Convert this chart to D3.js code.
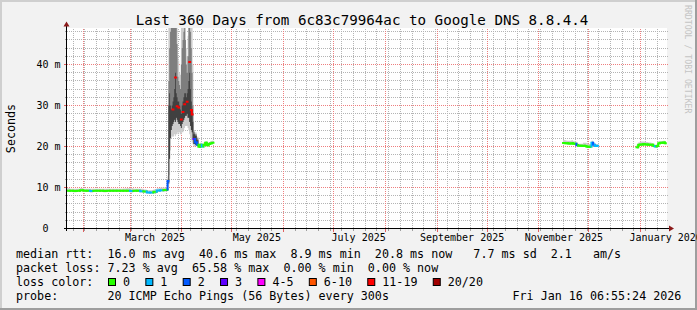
<!DOCTYPE html>
<html>
<head>
<meta charset="utf-8">
<script src="https://cdn.jsdelivr.net/npm/d3@7"></script>
<style>
  html, body { margin: 0; padding: 0; background: #f2f2f2; }
  svg { display: block; }
  svg text { font-family: "DejaVu Sans Mono", monospace; white-space: pre; }
</style>
</head>
<body>
<svg id="chart"></svg>
<script>
// ---- data ----
// each entry lasts until the next one; an entry with null median/smoke is a gap
const times = [
  // Jan - Mar 2025, ~9 ms
  "2025-01-22T00:00Z","2025-01-24T00:00Z","2025-01-26T00:00Z","2025-01-28T00:00Z","2025-01-30T00:00Z",
  "2025-02-01T00:00Z","2025-02-03T00:00Z","2025-02-05T00:00Z","2025-02-07T00:00Z","2025-02-09T00:00Z",
  "2025-02-11T00:00Z","2025-02-13T00:00Z","2025-02-15T00:00Z","2025-02-17T00:00Z","2025-02-19T00:00Z",
  "2025-02-21T00:00Z","2025-02-23T00:00Z","2025-02-25T00:00Z","2025-02-27T00:00Z","2025-03-01T00:00Z",
  "2025-03-03T00:00Z","2025-03-05T00:00Z","2025-03-07T00:00Z","2025-03-09T00:00Z","2025-03-11T00:00Z",
  "2025-03-13T00:00Z","2025-03-15T00:00Z","2025-03-17T00:00Z","2025-03-19T00:00Z","2025-03-21T00:00Z",
  "2025-03-23T00:00Z","2025-03-23T12:00Z",
  // spike, end of March / early April
  "2025-03-24T00:00Z","2025-03-24T12:00Z","2025-03-25T00:00Z","2025-03-25T12:00Z","2025-03-26T00:00Z",
  "2025-03-26T12:00Z","2025-03-27T00:00Z","2025-03-27T12:00Z","2025-03-28T00:00Z","2025-03-28T12:00Z",
  "2025-03-29T00:00Z","2025-03-29T12:00Z","2025-03-30T00:00Z","2025-03-30T12:00Z","2025-03-31T00:00Z",
  "2025-03-31T12:00Z","2025-04-01T00:00Z","2025-04-01T12:00Z","2025-04-02T00:00Z","2025-04-02T12:00Z",
  "2025-04-03T00:00Z","2025-04-03T12:00Z","2025-04-04T00:00Z","2025-04-04T12:00Z","2025-04-05T00:00Z",
  "2025-04-05T12:00Z","2025-04-06T00:00Z","2025-04-06T12:00Z","2025-04-07T00:00Z","2025-04-07T12:00Z",
  // April, ~20.5 ms
  "2025-04-08T00:00Z","2025-04-09T00:00Z","2025-04-10T00:00Z","2025-04-11T00:00Z","2025-04-12T00:00Z",
  "2025-04-13T00:00Z","2025-04-14T00:00Z","2025-04-15T00:00Z","2025-04-16T00:00Z","2025-04-17T00:00Z",
  "2025-04-18T00:00Z","2025-04-19T00:00Z","2025-04-20T00:00Z",
  // Nov - Dec 2025
  "2025-11-15T12:00Z","2025-11-16T12:00Z","2025-11-17T12:00Z","2025-11-18T12:00Z","2025-11-19T12:00Z",
  "2025-11-20T12:00Z","2025-11-21T12:00Z","2025-11-22T12:00Z","2025-11-23T12:00Z","2025-11-24T12:00Z",
  "2025-11-25T12:00Z","2025-11-26T12:00Z","2025-11-27T12:00Z","2025-11-28T12:00Z","2025-11-29T12:00Z",
  "2025-11-30T12:00Z","2025-12-01T12:00Z","2025-12-02T12:00Z","2025-12-03T12:00Z","2025-12-04T12:00Z",
  "2025-12-05T12:00Z","2025-12-06T12:00Z",
  // Dec 2025 - Jan 2026
  "2025-12-29T12:00Z","2025-12-30T12:00Z","2025-12-31T12:00Z","2026-01-01T12:00Z","2026-01-02T12:00Z",
  "2026-01-03T12:00Z","2026-01-04T12:00Z","2026-01-05T12:00Z","2026-01-06T12:00Z","2026-01-07T12:00Z",
  "2026-01-08T12:00Z","2026-01-09T12:00Z","2026-01-10T12:00Z","2026-01-11T12:00Z","2026-01-12T12:00Z",
  "2026-01-13T12:00Z","2026-01-14T12:00Z","2026-01-15T12:00Z","2026-01-16T02:00Z"
];

// median rtt in ms
const medianMs = [
  9.2, 9.2, 9.15, 9.2, 9.35, 9.2, 9.2, 9.15, 9.2, 9.2, 9.2, 9.15, 9.2, 9.2, 9.2, 9.2,
  9.2, 9.2, 9.2, 9.15, 9.2, 9.2, 9.1, 9.0, 8.8, 8.8, 8.95, 9.25, 9.35, 9.4, 9.5, 11.6,
  null, null, null, null, null, 29.0, null, null, 36.8, null, 29.8, null, 29.5, null, null,
  26.6, null, 28.4, null, 30.3, null, null, 30.9, null, null, 40.6, null, 28.9, 27.8, null,
  21.8, 21.0, 20.4, 19.95, 20.4, 20.0, 20.4, 20.9, 20.3, 20.6, 20.8, 20.9, null,
  20.85, 20.8, 20.8, 20.75, 20.75, 20.8, 20.7, 20.7, 20.3, 20.2, 20.2, 20.15, 20.2, 20.1, 19.95,
  19.9, 20.0, 20.9, 20.4, 20.15, 20.2, null,
  19.8, 20.4, 20.5, 20.5, 20.6, 20.5, 20.5, 20.4, 20.4, 20.4, 20.1, 20.0, 20.1, 20.8, 20.9,
  20.9, 21.0, 20.8, null
];

// lost pings out of 20
const lossPings = [
  0, 0, 0, 0, 0, 0, 0, 1, 0, 0, 0, 0, 0, 0, 0, 0,
  0, 0, 0, 1, 0, 0, 1, 0, 1, 1, 0, 1, 1, 0, 0, 2,
  20, 20, 20, 20, 20, 12, 20, 20, 12, 20, 12, 20, 12, 20, 20,
  12, 20, 12, 20, 12, 20, 20, 12, 20, 20, 12, 20, 12, 12, 20,
  3, 2, 2, 0, 0, 1, 0, 0, 0, 0, 0, 0, null,
  0, 0, 0, 0, 0, 0, 0, 0, 2, 0, 0, 0, 0, 0, 0,
  0, 0, 1, 2, 1, 1, null,
  0, 0, 0, 0, 0, 0, 0, 0, 0, 0, 0, 1, 0, 0, 0,
  0, 0, 0, null
];

// smoke: fastest / slowest ping (ms)
const smokeMin = [
  8.9, 8.9, 8.85, 8.9, 9.0, 8.9, 8.9, 8.8, 8.9, 8.9, 8.9, 8.85, 8.9, 8.9, 8.9, 8.9,
  8.9, 8.9, 8.9, 8.8, 8.9, 8.9, 8.8, 8.7, 8.5, 8.5, 8.6, 8.9, 9.0, 9.0, 9.1, 9.3,
  10.2, 13.0, 19.0, 22.0, 22.5, 22.3, 22.5, 23.0, 22.5, 23.0, 23.0, 23.5, 23.0, 23.5, 23.0,
  23.0, 23.5, 23.5, 24.0, 24.5, 25.0, 25.0, 25.0, 24.5, 24.0, 23.0, 22.0, 21.5, 21.0, 20.5,
  20.0, 20.2, 20.0, 19.7, 20.1, 19.8, 20.1, 20.5, 20.0, 20.3, 20.5, 20.6, null,
  20.6, 20.6, 20.6, 20.5, 20.5, 20.6, 20.5, 20.5, 20.1, 20.0, 20.0, 19.9, 20.0, 19.9, 19.7,
  19.7, 19.8, 20.6, 20.1, 19.9, 20.0, null,
  19.5, 20.1, 20.2, 20.2, 20.3, 20.2, 20.2, 20.1, 20.1, 20.1, 19.8, 19.7, 19.8, 20.5, 20.6,
  20.6, 20.7, 20.5, null
];
const smokeMax = [
  9.8, 9.7, 9.7, 9.7, 9.9, 9.7, 9.7, 9.7, 9.7, 9.7, 9.7, 9.7, 9.7, 9.7, 9.7, 9.7,
  9.7, 9.75, 9.8, 9.8, 9.7, 9.7, 9.7, 9.5, 9.3, 9.3, 9.5, 9.8, 10.0, 10.0, 10.1, 12.8,
  60, 60, 60, 60, 60, 60, 60, 60, 60, 60, 60, 42.0, 41.0, 38.0, 37.5,
  60, 60, 60, 60, 60, 60, 44.0, 42.0, 47.0, 60, 60, 60, 60, 52.0, 40.0,
  24.0, 23.4, 22.4, 20.6, 20.9, 20.6, 21.0, 21.3, 20.9, 21.1, 21.3, 21.4, null,
  21.6, 21.5, 21.4, 21.4, 21.4, 21.5, 21.3, 21.2, 20.9, 20.7, 20.7, 20.7, 20.9, 20.9, 20.8,
  20.6, 20.6, 21.4, 21.0, 20.6, 20.6, null,
  20.4, 21.0, 21.2, 21.2, 21.2, 21.1, 21.1, 21.0, 21.0, 20.8, 20.5, 20.4, 20.6, 21.3, 21.3,
  21.3, 21.4, 21.2, null
];
// smoke: inner quantiles where the spread is wide (ms)
const smokeLo = [
  null, null, null, null, null, null, null, null, null, null, null, null, null, null, null, null,
  null, null, null, null, null, null, null, null, null, null, null, null, null, null, null, null,
  11.0, 17.0, 22.0, 24.0, 25.0, 25.5, 26.0, 26.5, 26.0, 27.0, 26.5, 26.0, 25.5, 25.5, 25.0,
  24.5, 25.5, 26.0, 26.5, 27.0, 27.5, 27.5, 28.0, 27.0, 27.0, 26.0, 25.0, 24.0, 23.5, 22.0,
  20.6, 20.4, 20.2, null, null, null, null, null, null, null, null, null, null,
  null, null, null, null, null, null, null, null, null, null, null, null, null, null, null,
  null, null, null, null, null, null, null,
  null, null, null, null, null, null, null, null, null, null, null, null, null, null, null,
  null, null, null, null
];
const smokeCore = [
  null, null, null, null, null, null, null, null, null, null, null, null, null, null, null, null,
  null, null, null, null, null, null, null, null, null, null, null, null, null, null, null, null,
  30.0, 33.0, 30.0, 29.0, 30.0, 31.0, 32.0, 34.0, 38.0, 33.0, 32.0, 31.0, 31.0, 30.0, 29.0,
  28.0, 30.0, 31.0, 32.0, 33.0, 33.0, 32.0, 33.0, 34.0, 36.0, 38.0, 34.0, 31.0, 29.0, 26.0,
  23.0, 22.6, 21.5, null, null, null, null, null, null, null, null, null, null,
  null, null, null, null, null, null, null, null, null, null, null, null, null, null, null,
  null, null, null, null, null, null, null,
  null, null, null, null, null, null, null, null, null, null, null, null, null, null, null,
  null, null, null, null
];
const smokeHi = [
  null, null, null, null, null, null, null, null, null, null, null, null, null, null, null, null,
  null, null, null, null, null, null, null, null, null, null, null, null, null, null, null, null,
  36.0, 44.0, 48.0, 50.0, 52.0, 52.0, 55.0, 55.0, 52.0, 50.0, 45.0, 37.0, 36.0, 35.0, 34.0,
  40.0, 44.0, 46.0, 48.0, 50.0, 46.0, 40.0, 38.0, 42.0, 50.0, 52.0, 48.0, 44.0, 38.0, 30.0,
  23.5, 23.0, 22.0, null, null, null, null, null, null, null, null, null, null,
  null, null, null, null, null, null, null, null, null, null, null, null, null, null, null,
  null, null, null, null, null, null, null,
  null, null, null, null, null, null, null, null, null, null, null, null, null, null, null,
  null, null, null, null
];

// loss colour legend
const lossLabels = ["0", "1", "2", "3", "4-5", "6-10", "11-19", "20/20"];
const lossUpper  = [0, 1, 2, 3, 5, 10, 19, 20];
const lossColors = ["#26ff00", "#00b8ff", "#0059ff", "#5e00ff", "#ff00ff", "#ff5500", "#ff0000", "#a10000"];

// axes
const yTickValues = [0, 10, 20, 30, 40];
const yTickLabels = ["0", "10 m", "20 m", "30 m", "40 m"];
const monthLabelDates = ["2025-03-01", "2025-05-01", "2025-07-01", "2025-09-01", "2025-11-01", "2026-01-01"];
const monthLabels = ["March 2025", "May 2025", "July 2025", "September 2025", "November 2025", "January 2026"];

// texts
const title = "Last 360 Days from 6c83c79964ac to Google DNS 8.8.4.4";
const statLines = [
  "median rtt:  16.0 ms avg  40.6 ms max  8.9 ms min  20.8 ms now   7.7 ms sd  2.1   am/s",
  "packet loss: 7.23 % avg  65.58 % max  0.00 % min  0.00 % now"
];
const probeLine = "probe:       20 ICMP Echo Pings (56 Bytes) every 300s";
const stampLine = "Fri Jan 16 06:55:24 2026";

// ---- drawing ----
const W = 697, H = 310;
const svg = d3.select("#chart").attr("width", W).attr("height", H);

const T = times.map(d => new Date(d));
const n = T.length;

const x = d3.scaleUtc()
  .domain([new Date("2025-01-22T05:45:00Z"), new Date("2026-01-16T19:00:00Z")])
  .range([67, 667]);
const y = d3.scaleLinear().domain([0, 48.78]).range([228.5, 28.5]);

const [X0, X1] = x.range();
const [Y0, Y1] = y.range();
const crisp = v => Math.round(v - 0.5) + 0.5;

// background + 3d frame
svg.append("rect").attr("width", W).attr("height", H).attr("fill", "#f2f2f2");
svg.append("path").attr("d", `M1,${H}V1H${W}`).attr("fill", "none").attr("stroke", "#cfcfcf").attr("stroke-width", 2);
svg.append("path").attr("d", `M0,${H - 1}H${W - 1}V0`).attr("fill", "none").attr("stroke", "#9e9e9e").attr("stroke-width", 2);

// canvas
svg.append("rect").attr("x", X0).attr("y", Y1 - 0.5).attr("width", X1 - X0).attr("height", Y0 - Y1)
  .attr("fill", "#ffffff");

svg.append("clipPath").attr("id", "plotclip")
  .append("rect").attr("x", X0).attr("y", Y1 - 0.5).attr("width", X1 - X0 + 1).attr("height", Y0 - Y1 + 0.5);

// grid
const grid = svg.append("g").attr("shape-rendering", "crispEdges").attr("stroke-dasharray", "1,1");
const weeks = d3.utcSunday.range(x.domain()[0], x.domain()[1]);
const months = d3.utcMonth.range(x.domain()[0], x.domain()[1]);
const minorY = d3.range(2, 49, 2).filter(v => v % 10 !== 0);
const majorY = y.ticks(5).filter(v => v > 0);

grid.selectAll(".vminor").data(weeks).join("line")
  .attr("x1", d => crisp(x(d))).attr("x2", d => crisp(x(d)))
  .attr("y1", Y1).attr("y2", Y0)
  .attr("stroke", "#b4b4b4");
grid.selectAll(".hminor").data(minorY).join("line")
  .attr("x1", X0).attr("x2", X1 + 1)
  .attr("y1", d => crisp(y(d))).attr("y2", d => crisp(y(d)))
  .attr("stroke", "#b4b4b4");
grid.selectAll(".vmajor").data(months).join("line")
  .attr("x1", d => crisp(x(d))).attr("x2", d => crisp(x(d)))
  .attr("y1", Y1).attr("y2", Y0)
  .attr("stroke", "#ee7f7f");
grid.selectAll(".hmajor").data(majorY).join("line")
  .attr("x1", X0).attr("x2", X1 + 1)
  .attr("y1", d => crisp(y(d))).attr("y2", d => crisp(y(d)))
  .attr("stroke", "#ee7f7f");

// smoke
const plotG = svg.append("g").attr("clip-path", "url(#plotclip)");

function band(lowArr, highArr) {
  const pts = [];
  for (let i = 0; i < n - 1; i++) {
    if (lowArr[i] == null || highArr[i] == null) { pts.push(null); continue; }
    pts.push({ x: x(T[i]), y0: y(lowArr[i]), y1: y(highArr[i]) });
    pts.push({ x: x(T[i + 1]), y0: y(lowArr[i]), y1: y(highArr[i]) });
  }
  return pts;
}
const area = d3.area().defined(d => d !== null).x(d => d.x).y0(d => d.y0).y1(d => d.y1);

plotG.append("path").attr("d", area(band(smokeMin, smokeMax))).attr("fill", "#cccccc");
plotG.append("path").attr("d", area(band(smokeLo, smokeHi))).attr("fill", "#7e7e7e");
plotG.append("path").attr("d", area(band(smokeLo, smokeCore))).attr("fill", "#404040");

// median line coloured by loss
const lossColor = l => lossColors[lossUpper.findIndex(u => l <= u)];
const medG = plotG.append("g").attr("fill", "none").attr("stroke-width", 2).attr("stroke-linecap", "square");
for (let i = 0; i < n - 1; i++) {
  if (medianMs[i] == null) continue;
  const yi = y(medianMs[i]);
  const yPrev = (i > 0 && medianMs[i - 1] != null) ? y(medianMs[i - 1]) : yi;
  medG.append("path")
    .attr("d", `M${x(T[i])},${yPrev}V${yi}H${x(T[i + 1])}`)
    .attr("stroke", lossColor(lossPings[i]));
}

// ticks on the axes
const tk = svg.append("g").attr("shape-rendering", "crispEdges");
tk.selectAll(".tw").data(weeks).join("line")
  .attr("x1", d => crisp(x(d))).attr("x2", d => crisp(x(d)))
  .attr("y1", Y0).attr("y2", Y0 + 2).attr("stroke", "#a0a0a0");
tk.selectAll(".tm").data(months).join("line")
  .attr("x1", d => crisp(x(d))).attr("x2", d => crisp(x(d)))
  .attr("y1", Y0).attr("y2", Y0 + 3).attr("stroke", "#e06060");
tk.selectAll(".ty").data(minorY).join("line")
  .attr("x1", X0 - 2).attr("x2", X0)
  .attr("y1", d => crisp(y(d))).attr("y2", d => crisp(y(d))).attr("stroke", "#a0a0a0");
tk.selectAll(".tY").data(majorY).join("line")
  .attr("x1", X0 - 3).attr("x2", X0)
  .attr("y1", d => crisp(y(d))).attr("y2", d => crisp(y(d))).attr("stroke", "#e06060");

// axis lines + arrows
const ax = svg.append("g").attr("shape-rendering", "crispEdges");
ax.append("line").attr("x1", X0 - 3.5).attr("x2", X1 + 3).attr("y1", Y0).attr("y2", Y0).attr("stroke", "#000");
ax.append("line").attr("x1", X0 - 0.5).attr("x2", X0 - 0.5).attr("y1", Y0 + 2).attr("y2", Y1 - 3).attr("stroke", "#000");
svg.append("path").attr("d", `M${X1 + 7},${Y0}L${X1 + 2},${Y0 - 3}L${X1 + 2},${Y0 + 3}Z`).attr("fill", "#8b1a1a");
svg.append("path").attr("d", `M${X0 - 0.5},${Y1 - 7}L${X0 - 3.5},${Y1 - 2}L${X0 + 2.5},${Y1 - 2}Z`).attr("fill", "#8b1a1a");

// y labels
svg.selectAll(".ylab").data(yTickValues).join("text")
  .attr("x", (d, i) => yTickLabels[i].includes(" ") ? 60.5 : 48.5)
  .attr("y", d => y(d) + 3.5)
  .attr("text-anchor", "end")
  .attr("font-size", 10)
  .text((d, i) => yTickLabels[i]);

// x labels, centred half a month after the month start
svg.selectAll(".xlab").data(monthLabelDates).join("text")
  .attr("x", d => x(d3.utcDay.offset(new Date(d + "T00:00:00Z"), 15)))
  .attr("y", 241)
  .attr("text-anchor", "middle")
  .attr("font-size", 10)
  .text((d, i) => monthLabels[i]);

// title, axis title, watermark
svg.append("text").attr("x", 362).attr("y", 24.5).attr("text-anchor", "middle")
  .attr("font-size", 14.2).text(title);
svg.append("text").attr("transform", "translate(15,128.5) rotate(-90)")
  .attr("text-anchor", "middle").attr("font-size", 11.7).text("Seconds");
svg.append("text").attr("transform", "translate(685,5) rotate(90)")
  .attr("font-size", 8.2).attr("fill", "#c4c4c4").text("RRDTOOL / TOBI OETIKER");

// legend
const legendFont = 11.7;
statLines.forEach((s, i) => {
  svg.append("text").attr("x", 16).attr("y", 258 + i * 14).attr("font-size", legendFont).text(s);
});
svg.append("text").attr("x", 16).attr("y", 286).attr("font-size", legendFont).text("loss color:");
let bx = 108;
lossLabels.forEach((lab, i) => {
  svg.append("rect").attr("x", bx + 0.5).attr("y", 278.5).attr("width", 7).attr("height", 7)
    .attr("fill", lossColors[i]).attr("stroke", "#000").attr("stroke-width", 1);
  const t = svg.append("text").attr("x", bx + 15).attr("y", 286).attr("font-size", legendFont).text(lab);
  bx = bx + 15 + t.node().getComputedTextLength() + 15.3;
});
svg.append("text").attr("x", 16).attr("y", 300).attr("font-size", legendFont).text(probeLine);
svg.append("text").attr("x", 512.5).attr("y", 300).attr("font-size", legendFont).text(stampLine);
</script>
</body>
</html>
